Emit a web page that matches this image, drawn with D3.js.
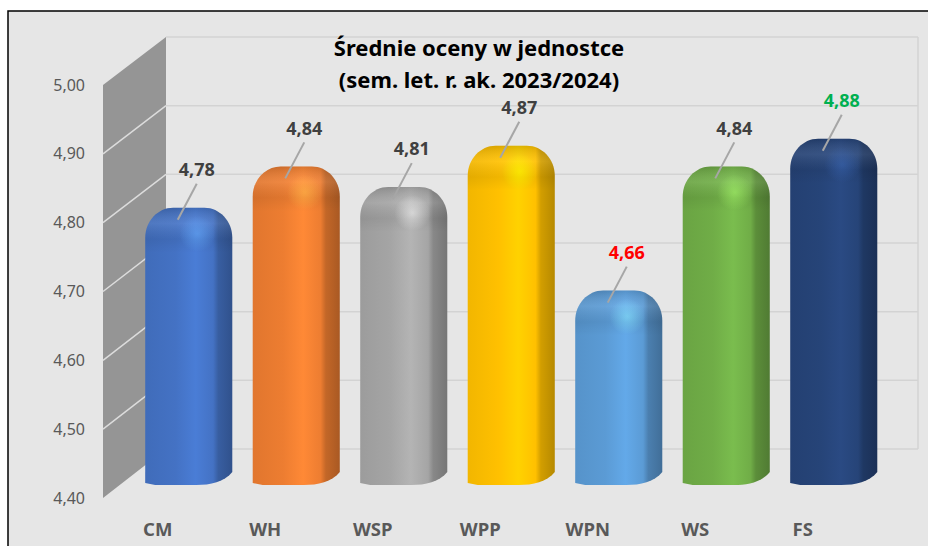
<!DOCTYPE html>
<html>
<head>
<meta charset="utf-8">
<script src="https://cdn.jsdelivr.net/npm/d3@7"></script>
<style>
  html, body { margin: 0; padding: 0; background: #fff; }
  svg { display: block; font-family: 'Noto Sans', 'Open Sans', sans-serif; }
</style>
</head>
<body>
<div id="chart"></div>
<script>
// Średnie oceny w jednostce – wykres słupkowy 3D

const categories = ['CM', 'WH', 'WSP', 'WPP', 'WPN', 'WS', 'FS'];
const values = [4.78, 4.84, 4.81, 4.87, 4.66, 4.84, 4.88];
const barColors = ['#4472c4', '#ed7d31', '#a5a5a5', '#ffc000', '#5b9bd5', '#70ad47', '#264478'];
const labelColors = ['#404040', '#404040', '#404040', '#404040', '#ff0000', '#404040', '#00b050'];
const yTicks = [4.4, 4.5, 4.6, 4.7, 4.8, 4.9, 5.0];
const titleLines = ['Średnie oceny w jednostce', '(sem. let. r. ak. 2023/2024)'];

const width = 928;
const height = 546;

const svg = d3.select('#chart')
    .append('svg')
    .attr('width', width)
    .attr('height', height);

const defs = svg.append('defs');

// tło wykresu z obramowaniem (góra i lewa strona)
svg.append('rect')
    .attr('x', 8).attr('y', 11)
    .attr('width', width - 8).attr('height', height - 11)
    .attr('fill', '#e6e6e6');
svg.append('path')
    .attr('d', `M8,${height} L8,11 L${width},11`)
    .attr('fill', 'none')
    .attr('stroke', '#000')
    .attr('stroke-width', 1.5);

// skale: przód ściany, tył ściany, środek głębokości (słupki)
const yFront = d3.scaleLinear().domain([4.4, 5.0]).range([498, 85]);
const yBack = d3.scaleLinear().domain([4.4, 5.0]).range([449, 37]);
const yBar = d3.scaleLinear().domain([4.4, 5.0]).range([470, 56]);
const wallFront = 103;
const wallBack = 166;
const backRight = 918;

const x = d3.scaleBand()
    .domain(categories)
    .range([135, 887.5])
    .paddingInner(0.19)
    .paddingOuter(0.095);

// tylna ściana – linie siatki
const grid = svg.append('g');
grid.selectAll('line.back')
    .data(yTicks)
    .enter()
    .append('line')
    .attr('class', 'back')
    .attr('x1', wallBack)
    .attr('x2', backRight)
    .attr('y1', d => yBack(d))
    .attr('y2', d => yBack(d))
    .attr('stroke', '#d3d3d3')
    .attr('stroke-width', 1.5);
grid.append('line')
    .attr('x1', backRight).attr('x2', backRight)
    .attr('y1', yBack(5.0)).attr('y2', yBack(4.4))
    .attr('stroke', '#d3d3d3')
    .attr('stroke-width', 1.5);

// lewa ściana
svg.append('path')
    .attr('d', `M${wallFront},${yFront(5.0)} L${wallBack},${yBack(5.0)} L${wallBack},${yBack(4.4)} L${wallFront},${yFront(4.4)} Z`)
    .attr('fill', '#959595');
svg.append('g')
    .selectAll('line')
    .data(yTicks.slice(1, -1))
    .enter()
    .append('line')
    .attr('x1', wallFront)
    .attr('x2', wallBack)
    .attr('y1', d => yFront(d))
    .attr('y2', d => yBack(d))
    .attr('stroke', '#dcdcdc')
    .attr('stroke-width', 1.5);

// etykiety osi Y
svg.append('g')
    .selectAll('text')
    .data(yTicks)
    .enter()
    .append('text')
    .attr('x', 85)
    .attr('y', d => yFront(d))
    .attr('dy', '0.35em')
    .attr('text-anchor', 'end')
    .style('font-size', '16px')
    .style('fill', '#595959')
    .text(d => d3.format('.2f')(d).replace('.', ','));

// kształt walca z zaokrągloną górą
function barPath(x0, x1, t, b) {
    const r = 28;
    const ry = 30;
    return `M${x0},${b + 13}` +
        ` L${x0},${t + ry}` +
        ` C${x0},${t + ry * 0.45} ${x0 + r * 0.45},${t} ${x0 + r},${t}` +
        ` L${x1 - r},${t}` +
        ` C${x1 - r * 0.45},${t} ${x1},${t + ry * 0.45} ${x1},${t + ry}` +
        ` L${x1},${b + 2}` +
        ` C${x1 - 8},${b + 12} ${x1 - 22},${b + 15} ${x1 - 36},${b + 15}` +
        ` L${x0 + 10},${b + 15} Z`;
}

const bars = svg.append('g')
    .selectAll('g.bar')
    .data(values)
    .enter()
    .append('g')
    .attr('class', 'bar');

bars.each(function(v, i) {
    const base = d3.color(barColors[i]);
    const g = d3.select(this);
    const x0 = x(categories[i]);
    const x1 = x0 + x.bandwidth();
    const t = yBar(v);
    const b = yBar(4.4);

    const side = defs.append('linearGradient')
        .attr('id', 'side' + i)
        .attr('x1', 0).attr('x2', 1).attr('y1', 0).attr('y2', 0);
    side.append('stop').attr('offset', '0%').attr('stop-color', base.darker(0.15));
    side.append('stop').attr('offset', '35%').attr('stop-color', base);
    side.append('stop').attr('offset', '58%').attr('stop-color', base.brighter(0.25));
    side.append('stop').attr('offset', '78%').attr('stop-color', base);
    side.append('stop').attr('offset', '84%').attr('stop-color', base.darker(0.55));
    side.append('stop').attr('offset', '100%').attr('stop-color', base.darker(0.95));

    const cap = defs.append('linearGradient')
        .attr('id', 'cap' + i)
        .attr('gradientUnits', 'userSpaceOnUse')
        .attr('x1', 0).attr('x2', 0).attr('y1', t).attr('y2', t + 45);
    cap.append('stop').attr('offset', '0%').attr('stop-color', '#000').attr('stop-opacity', 0.14);
    cap.append('stop').attr('offset', '35%').attr('stop-color', '#fff').attr('stop-opacity', 0.08);
    cap.append('stop').attr('offset', '70%').attr('stop-color', '#000').attr('stop-opacity', 0.06);
    cap.append('stop').attr('offset', '100%').attr('stop-color', '#000').attr('stop-opacity', 0);

    const shine = defs.append('radialGradient')
        .attr('id', 'shine' + i)
        .attr('gradientUnits', 'userSpaceOnUse')
        .attr('cx', x0 + x.bandwidth() * 0.6)
        .attr('cy', t + 26)
        .attr('r', 18);
    shine.append('stop').attr('offset', '0%').attr('stop-color', base.brighter(1.2)).attr('stop-opacity', 0.5);
    shine.append('stop').attr('offset', '100%').attr('stop-color', base.brighter(1.2)).attr('stop-opacity', 0);

    const d = barPath(x0, x1, t, b);
    g.append('path').attr('d', d).attr('fill', `url(#side${i})`);
    g.append('path').attr('d', d).attr('fill', `url(#cap${i})`);
    g.append('path').attr('d', d).attr('fill', `url(#shine${i})`);
});

// linie odniesienia i etykiety wartości
bars.append('line')
    .attr('x1', (d, i) => x(categories[i]) + x.bandwidth() / 2 + 8)
    .attr('y1', d => yBar(d) - 24)
    .attr('x2', (d, i) => x(categories[i]) + x.bandwidth() / 2 - 11)
    .attr('y2', d => yBar(d) + 12)
    .attr('stroke', '#a6a6a6')
    .attr('stroke-width', 2);

bars.append('text')
    .attr('x', (d, i) => x(categories[i]) + x.bandwidth() / 2 + 8)
    .attr('y', d => yBar(d) - 38)
    .attr('dy', '0.35em')
    .attr('text-anchor', 'middle')
    .style('font-size', '18px')
    .style('font-weight', 'bold')
    .style('fill', (d, i) => labelColors[i])
    .text(d => d3.format('.2f')(d).replace('.', ','));

// etykiety kategorii
svg.append('g')
    .selectAll('text')
    .data(categories)
    .enter()
    .append('text')
    .attr('x', d => x(d) + x.bandwidth() / 2 - 31)
    .attr('y', 530)
    .attr('dy', '0.35em')
    .attr('text-anchor', 'middle')
    .style('font-size', '18.5px')
    .style('font-weight', 'bold')
    .style('fill', '#595959')
    .text(d => d);

// tytuł
svg.append('text')
    .attr('x', 479)
    .attr('y', 56)
    .attr('text-anchor', 'middle')
    .style('font-size', '22px')
    .style('font-weight', 'bold')
    .style('fill', '#000')
    .selectAll('tspan')
    .data(titleLines)
    .enter()
    .append('tspan')
    .attr('x', 479)
    .attr('dy', (d, i) => i === 0 ? 0 : 32)
    .text(d => d);
</script>
</body>
</html>
